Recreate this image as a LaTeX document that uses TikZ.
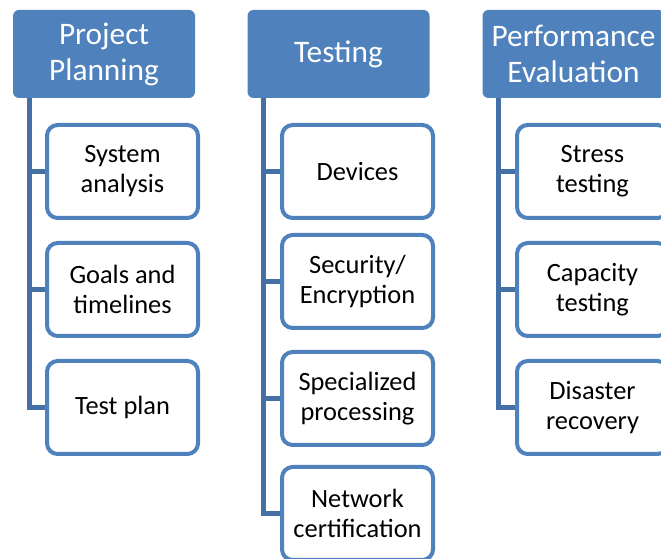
\documentclass[tikz,border=0pt]{standalone}
\usepackage{fontspec}
\setmainfont{Carlito}
\usepackage{xcolor}
\definecolor{headblue}{HTML}{4F81BD}
\definecolor{trunkblue}{HTML}{4470A6}
\tikzset{
  headbox/.style={fill=headblue,text=white,rounded corners=4.5pt,
    minimum width=136.5pt,minimum height=66pt,align=center,
    inner sep=0pt,font=\fontsize{23.5}{27}\selectfont},
  taskbox/.style={draw=headblue,line width=3pt,fill=white,rounded corners=8pt,
    minimum width=113.25pt,minimum height=69.75pt,align=center,
    inner sep=0pt,font=\fontsize{19.8}{22.5}\selectfont},
  branch/.style={draw=trunkblue,line width=3.75pt}
}
\begin{document}
\begin{tikzpicture}[x=0.75pt,y=-0.75pt]
\useasboundingbox (0,0) rectangle (661,559);
\clip (0,0) rectangle (661,559);
% headers
\node[headbox] (plan) at (104,54) {Project\\Planning};
\node[headbox] (test) at (338.5,54) {Testing};
\node[headbox] (perf) at (573.5,54) {Performance\\Evaluation};
% project planning
\node[taskbox] (sysan) at (122.5,171.5) {System\\analysis};
\node[taskbox] (goals) at (122.5,289.5) {Goals and\\timelines};
\node[taskbox] (tplan) at (122.5,407.5) {Test plan};
% testing
\node[taskbox] (devs) at (357.5,171.5) {Devices};
\node[taskbox] (secur) at (357.5,281.5) {Security/\\Encryption};
\node[taskbox] (spec) at (357.5,398.5) {Specialized\\processing};
\node[taskbox] (netw) at (357.5,513.5) {Network\\certification};
% performance evaluation
\node[taskbox] (stress) at (592.5,171.5) {Stress\\testing};
\node[taskbox] (capac) at (592.5,289.5) {Capacity\\testing};
\node[taskbox] (disas) at (592.5,407.5) {Disaster\\recovery};
% trunks
\coordinate (planT) at ([xshift=12.4pt]plan.south west);
\coordinate (testT) at ([xshift=12.4pt]test.south west);
\coordinate (perfT) at ([xshift=12.4pt]perf.south west);
\begin{scope}[on background layer/.try]
\draw[branch] (planT) |- (tplan.west);
\draw[branch] (planT |- sysan.west) -- (sysan.west);
\draw[branch] (planT |- goals.west) -- (goals.west);
\draw[branch] (testT) |- (netw.west);
\draw[branch] (testT |- devs.west) -- (devs.west);
\draw[branch] (testT |- secur.west) -- (secur.west);
\draw[branch] (testT |- spec.west) -- (spec.west);
\draw[branch] (perfT) |- (disas.west);
\draw[branch] (perfT |- stress.west) -- (stress.west);
\draw[branch] (perfT |- capac.west) -- (capac.west);
\end{scope}
\end{tikzpicture}
\end{document}
